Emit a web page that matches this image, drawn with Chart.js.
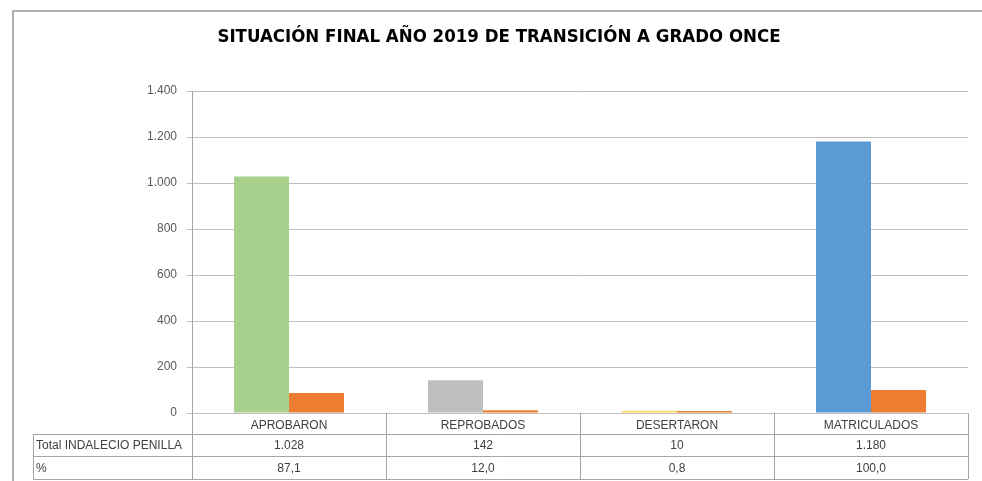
<!DOCTYPE html>
<html lang="es">
<head>
<meta charset="utf-8">
<title>Situación final año 2019</title>
<script src="https://cdn.jsdelivr.net/npm/chart.js@4/dist/chart.umd.min.js"></script>
<style>
    html, body { margin: 0; padding: 0; background: #ffffff; }
    canvas { display: block; }
</style>
</head>
<body>
<canvas id="situacionChart" width="982" height="481"></canvas>
<script>
const titulo = 'SITUACIÓN FINAL AÑO 2019 DE TRANSICIÓN A GRADO ONCE';
const categorias = ['APROBARON', 'REPROBADOS', 'DESERTARON', 'MATRICULADOS'];
const totalLabel = 'Total INDALECIO PENILLA';
const totales = [1028, 142, 10, 1180];
const porcentajeLabel = '%';
const porcentajes = [87.1, 12.0, 0.8, 100.0];
const yTicks = [0, 200, 400, 600, 800, 1000, 1200, 1400];

const coloresTotal = ['#A9D18E', '#BFBFBF', '#FFD966', '#5B9BD5'];
const colorPorcentaje = '#ED7D31';
const fuente = '"Liberation Sans", Arial, sans-serif';

function numero(value, decimals = 0) {
    return new Intl.NumberFormat('de-DE', {
        minimumFractionDigits: decimals,
        maximumFractionDigits: decimals,
    }).format(value);
}

// frame, title and the data table under the x axis
const tablaPlugin = {
    id: 'tablaDatos',
    afterDraw(chart) {
        const { ctx, chartArea, scales } = chart;
        const x = scales.x;
        const half = (x.getPixelForValue(1) - x.getPixelForValue(0)) / 2;
        const edges = categorias.map((_, i) => x.getPixelForValue(i) - half);
        edges.push(x.getPixelForValue(categorias.length - 1) + half);

        const top = chartArea.bottom;
        const rowLines = [top, top + 21, top + 43, top + 66];
        const tableLeft = 33;

        ctx.save();

        // outer frame
        ctx.strokeStyle = '#B0B0B0';
        ctx.lineWidth = 2;
        ctx.beginPath();
        ctx.moveTo(13, chart.height);
        ctx.lineTo(13, 11);
        ctx.lineTo(chart.width, 11);
        ctx.stroke();

        // title
        ctx.fillStyle = '#000000';
        ctx.font = `bold 18.5px "Liberation Sans Narrow", "DejaVu Sans Condensed", sans-serif`;
        ctx.textAlign = 'center';
        ctx.textBaseline = 'middle';
        ctx.fillText(titulo, 499, 37);

        // table grid
        ctx.strokeStyle = '#A6A6A6';
        ctx.lineWidth = 1;
        ctx.beginPath();
        edges.forEach((ex) => {
            const px = Math.round(ex) + 0.5;
            ctx.moveTo(px, rowLines[0]);
            ctx.lineTo(px, rowLines[3]);
        });
        for (let r = 1; r < rowLines.length; r++) {
            ctx.moveTo(tableLeft, rowLines[r] + 0.5);
            ctx.lineTo(edges[edges.length - 1], rowLines[r] + 0.5);
        }
        ctx.moveTo(tableLeft + 0.5, rowLines[1]);
        ctx.lineTo(tableLeft + 0.5, rowLines[3]);
        ctx.stroke();

        // rows
        ctx.fillStyle = '#404040';
        ctx.font = `12px ${fuente}`;
        const filas = [
            { label: totalLabel, values: totales.map((v) => numero(v)) },
            { label: porcentajeLabel, values: porcentajes.map((v) => numero(v, 1)) },
        ];
        filas.forEach((fila, r) => {
            const cy = (rowLines[r + 1] + rowLines[r + 2]) / 2 + 1;
            ctx.textAlign = 'left';
            ctx.fillText(fila.label, tableLeft + 3, cy);
            ctx.textAlign = 'center';
            fila.values.forEach((text, i) => {
                ctx.fillText(text, x.getPixelForValue(i), cy);
            });
        });

        ctx.restore();
    },
};

new Chart(document.getElementById('situacionChart'), {
    type: 'bar',
    data: {
        labels: categorias,
        datasets: [
            {
                label: totalLabel,
                data: totales,
                backgroundColor: coloresTotal,
                categoryPercentage: 0.567,
                barPercentage: 1,
                minBarLength: 2,
            },
            {
                label: porcentajeLabel,
                data: porcentajes,
                backgroundColor: colorPorcentaje,
                categoryPercentage: 0.567,
                barPercentage: 1,
                minBarLength: 2,
            },
        ],
    },
    options: {
        responsive: false,
        animation: false,
        layout: {
            padding: { top: 91, right: 14, bottom: 0, left: 0 },
        },
        plugins: {
            legend: { display: false },
            title: { display: false },
            tooltip: { enabled: false },
        },
        scales: {
            x: {
                grid: { display: false, drawTicks: false },
                border: { display: false },
                ticks: {
                    padding: 5,
                    color: '#404040',
                    font: { family: fuente, size: 12 },
                },
                afterFit: (scale) => {
                    scale.height = 68;
                },
            },
            y: {
                min: 0,
                max: 1400,
                afterBuildTicks: (scale) => {
                    scale.ticks = yTicks.map((value) => ({ value }));
                },
                grid: {
                    color: '#BFBFBF',
                    tickLength: 5,
                },
                border: { color: '#A6A6A6' },
                ticks: {
                    padding: 10,
                    color: '#595959',
                    font: { family: fuente, size: 12 },
                    callback: (value) => numero(value),
                },
                afterFit: (scale) => {
                    scale.width = 192;
                },
            },
        },
    },
    plugins: [tablaPlugin],
});
</script>
</body>
</html>
